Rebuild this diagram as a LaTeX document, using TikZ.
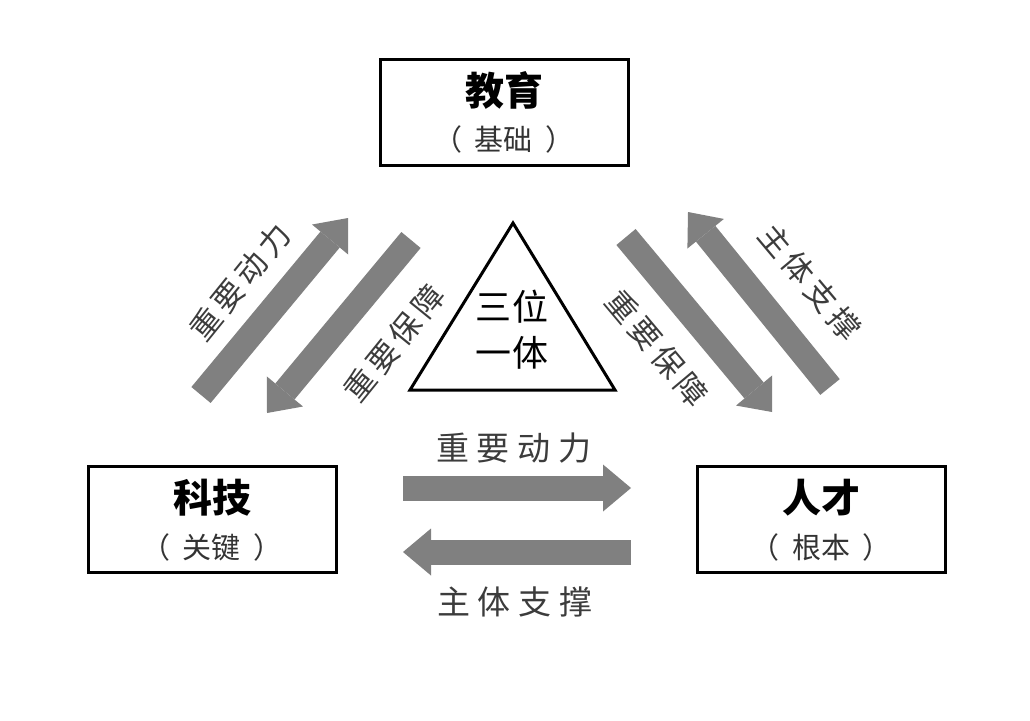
\documentclass[tikz,border=0pt]{standalone}
\usepackage{fontspec}
\newfontfamily\cjk{Noto Sans CJK SC}
\usetikzlibrary{arrows.meta}
\definecolor{arrowgray}{RGB}{128,128,128}
\definecolor{labelgray}{RGB}{60,60,60}
\newcommand{\lsp}{\kern5pt}
\newcommand{\pk}{\kern13pt}
\tikzset{
  box/.style={draw=black, line width=3pt, minimum width=248pt, minimum height=106pt, inner sep=0pt},
  head/.style={font=\cjk\bfseries\fontsize{39}{42}\selectfont, inner sep=0pt},
  sub/.style={font=\cjk\fontsize{29}{32}\selectfont, text=black!80, inner sep=0pt},
  bigarrow/.style={draw=arrowgray, line width=25pt, -{Triangle[width=47pt,length=28pt,line width=0pt]}},
  lbl/.style={font=\cjk\fontsize{31}{34}\selectfont, text=labelgray, inner sep=0pt},
  tri/.style={draw=black, line width=3pt, line join=miter},
  tritext/.style={font=\cjk\fontsize{36}{40}\selectfont, inner sep=0pt},
}
\begin{document}
\begin{tikzpicture}[x=1pt,y=-1pt]
\useasboundingbox[fill=white] (0,0) rectangle (1030,720);

% boxes
\node[box] (edu) at (504,112) {};
\node[head] (eduh) at ([yshift=22pt]edu.center) {教育};
\node[sub] (edus) at ([yshift=-27pt]edu.center) {（\pk 基础\pk ）};

\node[box] (tech) at (212,519) {};
\node[head] (techh) at ([yshift=21pt]tech.center) {科技};
\node[sub] (techs) at ([yshift=-28pt]tech.center) {（\pk 关键\pk ）};

\node[box] (tal) at (821,519) {};
\node[head] (talh) at ([yshift=21pt]tal.center) {人才};
\node[sub] (tals) at ([yshift=-28pt]tal.center) {（\pk 根本\pk ）};

% triangle
\coordinate (apex) at (513,223);
\coordinate (bl) at (410,390);
\coordinate (br) at (615,390);
\draw[tri] (apex) -- (bl) -- (br) -- cycle;
\node[tritext] (t1) at (512,307) {三\kern2pt 位};
\node[tritext] (t2) at (512,353) {一\kern2pt 体};

% diagonal arrows
\coordinate (a1s) at (201,395); \coordinate (a1e) at (348,218);
\coordinate (a2s) at (411,240); \coordinate (a2e) at (267,413);
\coordinate (a3s) at (626,237); \coordinate (a3e) at (772,412);
\coordinate (a4s) at (830,387); \coordinate (a4e) at (688,212);
\draw[bigarrow] (a1s) -- (a1e);
\draw[bigarrow] (a2s) -- (a2e);
\draw[bigarrow] (a3s) -- (a3e);
\draw[bigarrow] (a4s) -- (a4e);

% horizontal arrows
\coordinate (h1s) at (403,488); \coordinate (h1e) at (631,488);
\coordinate (h2s) at (631,552); \coordinate (h2e) at (403,552);
\draw[bigarrow] (h1s) -- (h1e);
\draw[bigarrow] (h2s) -- (h2e);

% labels
\node[lbl, rotate=51] (l1) at (240,282) {重\lsp 要\lsp 动\lsp 力};
\node[lbl, rotate=51] (l2) at (394,343) {重\lsp 要\lsp 保\lsp 障};
\node[lbl, rotate=-50] (l3) at (657,348) {重\lsp 要\lsp 保\lsp 障};
\node[lbl, rotate=-50] (l4) at (810,282) {主\lsp 体\lsp 支\lsp 撑};
\node[lbl, font=\cjk\fontsize{33}{36}\selectfont] (l5) at (514,448) {重\kern8pt 要\kern8pt 动\kern8pt 力};
\node[lbl, font=\cjk\fontsize{33}{36}\selectfont] (l6) at (515,602) {主\kern8pt 体\kern8pt 支\kern8pt 撑};
\end{tikzpicture}
\end{document}
